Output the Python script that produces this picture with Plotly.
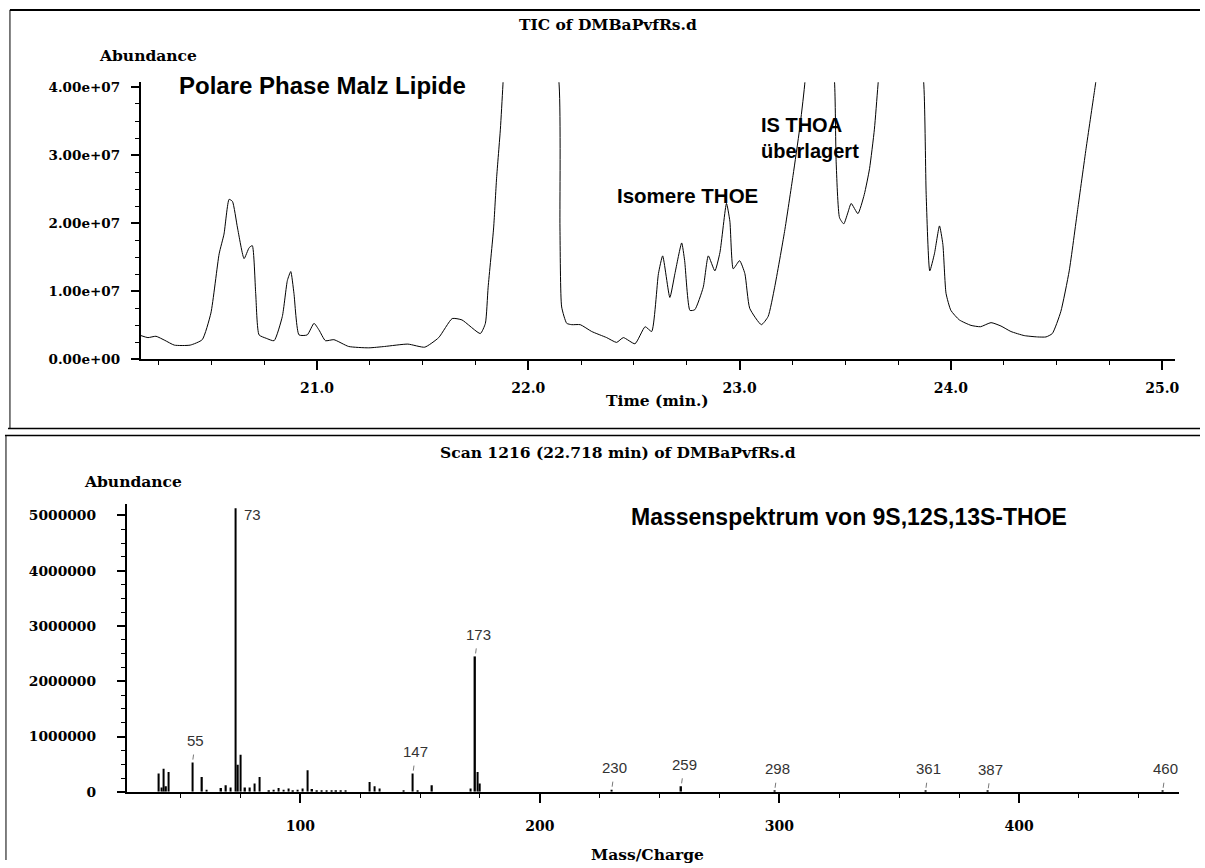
import plotly.graph_objects as go

W, H = 1205, 868

# ---- Total ion chromatogram: retention time (min) and abundance (x 1e6 counts)
tic_time = [
    20.167, 20.20, 20.238, 20.28, 20.325, 20.40, 20.457, 20.498, 20.537, 20.56,
    20.584, 20.60, 20.624, 20.655, 20.679, 20.694, 20.71, 20.726, 20.76, 20.797,
    20.836, 20.86, 20.876, 20.891, 20.915, 20.954, 20.986, 21.01, 21.04, 21.08,
    21.15, 21.245, 21.32, 21.43, 21.51, 21.576, 21.64, 21.686, 21.773, 21.797,
    21.81, 21.836, 21.85, 21.868, 21.88, 21.96, 22.146, 22.15, 22.158, 22.182,
    22.206, 22.246, 22.30, 22.371, 22.418, 22.45, 22.505, 22.553, 22.584, 22.616,
    22.636, 22.67, 22.694, 22.726, 22.74, 22.765, 22.788, 22.828, 22.852, 22.883,
    22.907, 22.938, 22.954, 22.97, 23.0, 23.025, 23.048, 23.103, 23.135, 23.166,
    23.213, 23.253, 23.284, 23.308, 23.38, 23.45, 23.457, 23.473, 23.493, 23.512,
    23.528, 23.56, 23.59, 23.615, 23.638, 23.655, 23.76, 23.872, 23.883, 23.90,
    23.922, 23.946, 23.962, 23.977, 24.0, 24.04, 24.095, 24.14, 24.19, 24.237,
    24.284, 24.347, 24.41, 24.45, 24.48, 24.52, 24.56, 24.60, 24.64, 24.68, 24.72,
]
tic_abund_e6 = [
    3.5, 3.2, 3.4, 2.8, 2.1, 2.1, 2.9, 6.8, 15.5, 18.4,
    23.5, 23.2, 19.3, 14.8, 16.4, 16.7, 9.7, 3.6, 3.1, 2.75,
    6.3, 11.6, 12.9, 9.7, 3.6, 3.6, 5.3, 4.3, 2.75, 2.9,
    1.9, 1.7, 1.9, 2.25, 1.8, 3.2, 6.0, 5.8, 3.8, 5.3,
    10.6, 19.3, 26.6, 33.8, 40.3, 90.0, 40.3, 19.3, 7.7, 5.3,
    5.1, 5.1, 4.1, 3.2, 2.5, 3.2, 2.3, 4.8, 4.1, 12.6,
    15.2, 9.1, 12.6, 17.1, 14.5, 7.2, 7.3, 10.6, 15.2, 13.0,
    15.7, 22.9, 20.3, 13.3, 14.5, 12.6, 7.5, 5.1, 6.3, 10.6,
    18.8, 27.0, 33.8, 40.3, 70.0, 40.3, 29.0, 20.8, 19.9, 21.5,
    22.9, 21.4, 24.2, 28.0, 33.8, 40.3, 80.0, 40.3, 24.2, 13.0,
    15.5, 19.6, 16.9, 9.7, 7.2, 5.8, 5.0, 4.8, 5.4, 4.9,
    4.1, 3.5, 3.3, 3.3, 3.8, 7.0, 13.0, 22.0, 31.0, 39.5, 48.0,
]

# ---- Mass spectrum of scan 1216: m/z and abundance (x 1e6 counts)
ms_mz = [
    41, 42, 43, 44, 45, 55, 59, 61, 67, 69, 71, 73, 74, 75, 77, 79, 81, 83,
    87, 89, 91, 93, 95, 97, 99, 101, 103, 105, 107, 109, 111, 113, 115, 117,
    119, 129, 131, 133, 143, 147, 149, 155, 171, 173, 174, 175,
    230, 259, 298, 361, 387, 460,
]
ms_abund_e6 = [
    0.33, 0.08, 0.42, 0.10, 0.36, 0.53, 0.27, 0.04, 0.07, 0.12, 0.08, 5.13, 0.49, 0.67, 0.08, 0.08, 0.15, 0.27,
    0.03, 0.04, 0.07, 0.04, 0.06, 0.03, 0.04, 0.06, 0.39, 0.05, 0.03, 0.03, 0.03, 0.02, 0.03, 0.03,
    0.02, 0.18, 0.10, 0.06, 0.03, 0.33, 0.03, 0.12, 0.06, 2.45, 0.36, 0.15,
    0.04, 0.10, 0.02, 0.02, 0.01, 0.02,
]
ms_labelled_mz = [55, 147, 173, 230, 259, 298, 361, 387, 460]
base_peak_mz = 73

# ---- Axis ticks
tic_xtickvals = [21, 22, 23, 24, 25]
tic_xticktext = ["21.0", "22.0", "23.0", "24.0", "25.0"]
tic_ytickvals = [0, 1e7, 2e7, 3e7, 4e7]
tic_yticktext = ["0.00e+00", "1.00e+07", "2.00e+07", "3.00e+07", "4.00e+07"]
ms_xtickvals = [100, 200, 300, 400]
ms_xticktext = ["100", "200", "300", "400"]
ms_ytickvals = [0, 1e6, 2e6, 3e6, 4e6, 5e6]
ms_yticktext = ["0", "1000000", "2000000", "3000000", "4000000", "5000000"]

SERIF = "DejaVu Serif"
SANS = "Liberation Sans"


def px(x):
    return x / W


def py(y):
    return 1 - y / H


fig = go.Figure()

fig.add_trace(go.Scatter(
    x=tic_time, y=[v * 1e6 for v in tic_abund_e6],
    mode="lines", line=dict(color="black", width=1, shape="spline", smoothing=0.5),
    xaxis="x", yaxis="y", showlegend=False, hoverinfo="skip",
))

fig.add_trace(go.Bar(
    x=ms_mz, y=[v * 1e6 for v in ms_abund_e6], width=0.6,
    marker=dict(color="black", line=dict(width=0)),
    xaxis="x2", yaxis="y2", showlegend=False, hoverinfo="skip",
))

tick_serif = dict(family=SERIF, size=14, color="black", weight="bold")
common_axis = dict(
    showline=True, linecolor="black", linewidth=1.5,
    ticks="outside", tickcolor="black", tickwidth=1.5,
    showgrid=False, zeroline=False, fixedrange=True,
)

layout = dict(
    width=W, height=H,
    margin=dict(l=0, r=0, t=0, b=0),
    paper_bgcolor="white", plot_bgcolor="white",
    showlegend=False,
    xaxis=dict(
        common_axis, domain=[px(141), px(1179)], range=[20.165, 25.061], anchor="y",
        tickmode="array", tickvals=tic_xtickvals, ticktext=tic_xticktext,
        ticklen=9, tickfont=tick_serif, ticklabelstandoff=6,
        minor=dict(tickmode="linear", tick0=0, dtick=0.25, ticks="outside",
                   ticklen=4, tickcolor="black", tickwidth=1, showgrid=False),
    ),
    yaxis=dict(
        common_axis, domain=[py(361), py(80.2)], range=[0, 4.07e7], anchor="x",
        tickmode="array", tickvals=tic_ytickvals, ticktext=tic_yticktext,
        ticklen=8, tickfont=dict(tick_serif, size=13.5), ticklabelstandoff=8,
        minor=dict(tickmode="linear", tick0=0, dtick=2.5e6, ticks="outside",
                   ticklen=4, tickcolor="black", tickwidth=1, showgrid=False),
    ),
    xaxis2=dict(
        common_axis, domain=[px(127), px(1183)], range=[27.5, 466.8], anchor="y2",
        tickmode="array", tickvals=ms_xtickvals, ticktext=ms_xticktext,
        ticklen=9, tickfont=tick_serif, ticklabelstandoff=12,
        minor=dict(tickmode="linear", tick0=0, dtick=25, ticks="outside",
                   ticklen=4, tickcolor="black", tickwidth=1, showgrid=False),
    ),
    yaxis2=dict(
        common_axis, domain=[py(799), py(507.8)], range=[0, 5.2e6], anchor="x2",
        tickmode="array", tickvals=ms_ytickvals, ticktext=ms_yticktext,
        ticklen=8, tickfont=dict(tick_serif, size=13.8), ticklabelstandoff=18,
        minor=dict(tickmode="linear", tick0=0, dtick=2.5e5, ticks="outside",
                   ticklen=4, tickcolor="black", tickwidth=1, showgrid=False),
    ),
)

# Panel frame lines
frame = dict(color="black", width=1.5)
layout["shapes"] = [
    dict(type="line", xref="paper", yref="paper", x0=px(10), x1=px(1204), y0=py(7), y1=py(7), line=dict(color="black", width=2)),
    dict(type="line", xref="paper", yref="paper", x0=px(10), x1=px(10), y0=py(7), y1=py(431), line=dict(color="black", width=1)),
    dict(type="line", xref="paper", yref="paper", x0=px(8), x1=px(1204), y0=py(431), y1=py(431), line=frame),
    dict(type="line", xref="paper", yref="paper", x0=px(5), x1=px(1204), y0=py(438), y1=py(438), line=frame),
    dict(type="line", xref="paper", yref="paper", x0=px(6), x1=px(6), y0=py(438), y1=py(868), line=dict(color="black", width=1)),
]

title_font = dict(family=SERIF, size=15.5, color="black", weight="bold")
note_font = dict(family=SANS, color="black", weight="bold")


def paper_text(text, x, y, font, xanchor="left", align="left"):
    return dict(text=text, xref="paper", yref="paper", x=px(x), y=py(y),
                xanchor=xanchor, yanchor="middle", showarrow=False, font=font, align=align)


annotations = [
    paper_text("TIC of DMBaPvfRs.d", 610, 22, title_font, "center"),
    paper_text("Abundance", 97, 53, title_font),
    paper_text("Time (min.)", 660, 403, title_font, "center"),
    paper_text("Scan 1216 (22.718 min) of DMBaPvfRs.d", 620, 455, title_font, "center"),
    paper_text("Abundance", 82, 485, title_font),
    paper_text("Mass/Charge", 650, 862, title_font, "center"),
    paper_text("Polare Phase Malz Lipide", 178, 84, dict(note_font, size=24)),
    paper_text("Isomere THOE", 617, 195, dict(note_font, size=20.5)),
    paper_text("IS THOA<br>überlagert", 762, 137, dict(note_font, size=20)),
    paper_text("Massenspektrum von 9S,12S,13S-THOE", 631, 521, dict(note_font, size=23)),
]

# Peak labels of the mass spectrum
label_font = dict(family=SANS, size=15, color="#333333")
for mz in ms_labelled_mz:
    v = ms_abund_e6[ms_mz.index(mz)] * 1e6
    annotations.append(dict(
        text=str(mz), x=mz, y=v, xref="x2", yref="y2",
        showarrow=True, arrowhead=0, arrowwidth=0.8, arrowcolor="#555555",
        ax=3, ay=-22, standoff=3, startstandoff=4, font=label_font,
    ))
v73 = ms_abund_e6[ms_mz.index(base_peak_mz)] * 1e6
annotations.append(dict(
    text=str(base_peak_mz), x=base_peak_mz, y=v73, xref="x2", yref="y2",
    xanchor="left", yanchor="middle", xshift=6, yshift=-6, showarrow=False, font=label_font,
))
layout["annotations"] = annotations

fig.update_layout(layout)
fig.write_html("out.html")
